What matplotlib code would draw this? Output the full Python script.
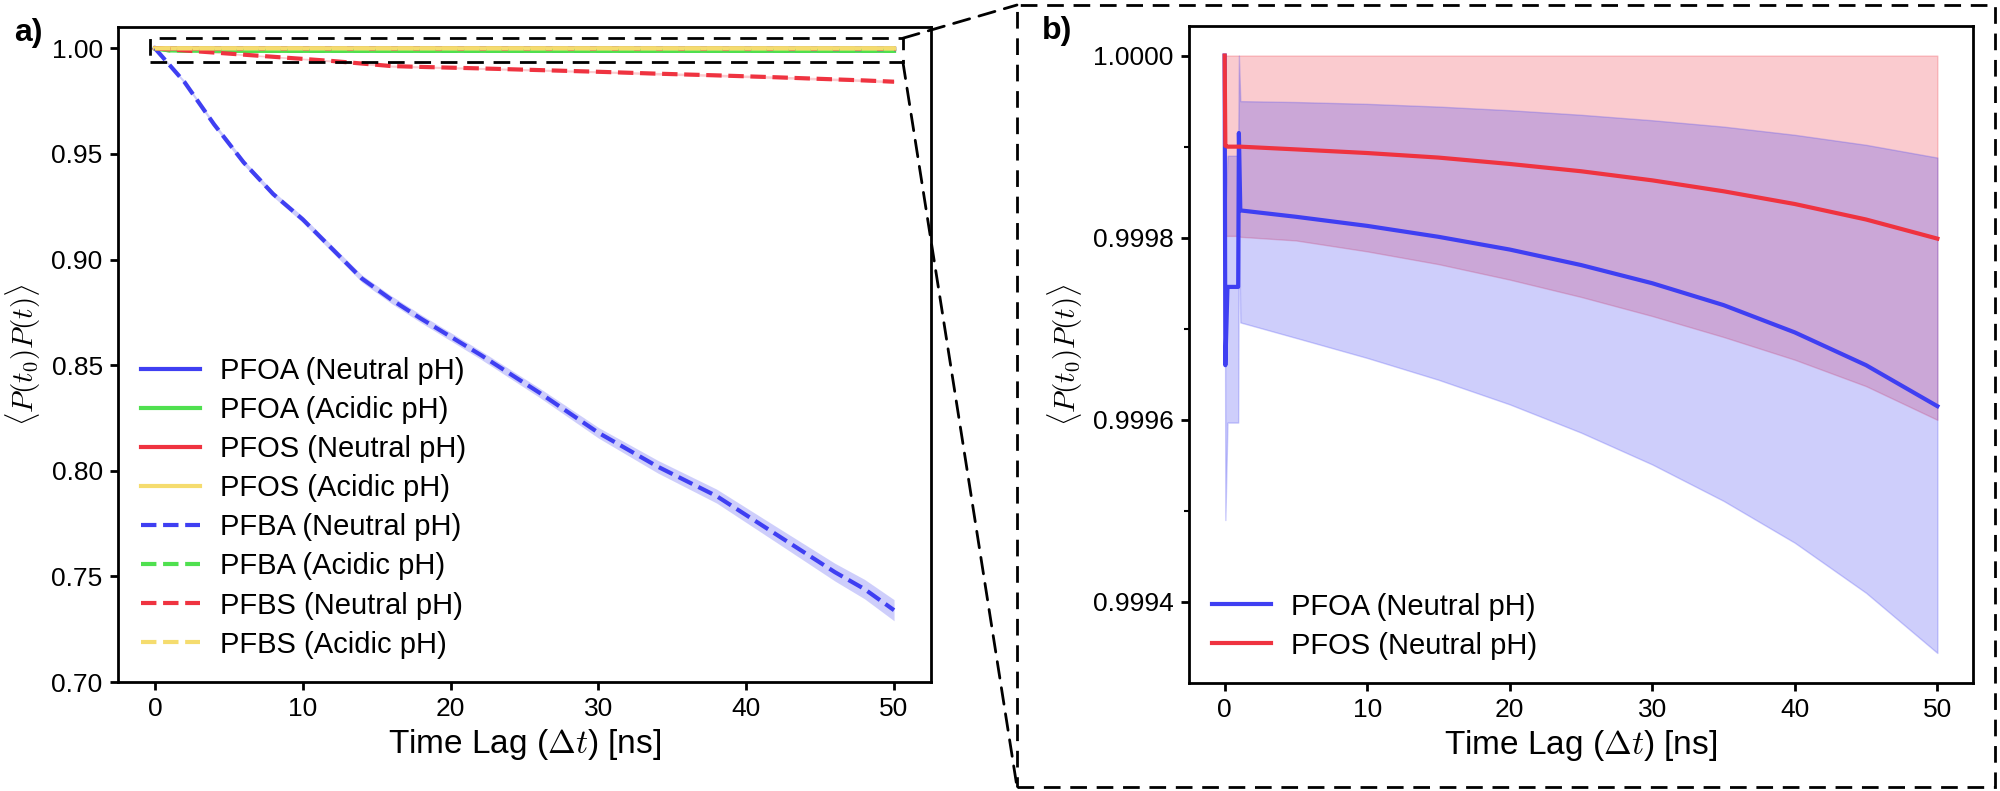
import numpy as np
import matplotlib
matplotlib.use("Agg")
import matplotlib.pyplot as plt
from matplotlib.patches import Rectangle, ConnectionPatch
from matplotlib.ticker import MultipleLocator, FormatStrFormatter

plt.rcParams['font.family'] = ['Liberation Sans', 'DejaVu Sans']
plt.rcParams['mathtext.fontset'] = 'cm'

BLUE = '#3f3ff2'
GREEN = '#4fe04f'
RED = '#ef3340'
GOLD = '#f5dc6e'

# ---- panel a data (time lag in ns) ----
t_a = [0, 1, 2, 4, 6, 8, 10, 12, 14, 16, 18, 22, 26, 30, 34, 38, 42, 46, 48, 50]
pfba_neu = [1.000, 0.992, 0.984, 0.964, 0.946, 0.931, 0.919, 0.905, 0.891, 0.881,
            0.872, 0.855, 0.837, 0.818, 0.802, 0.788, 0.770, 0.752, 0.744, 0.734]
pfba_neu_err = [0.0, 0.0006, 0.0008, 0.0010, 0.0012, 0.0013, 0.0015, 0.0016, 0.0017, 0.0018,
                0.0019, 0.0020, 0.0022, 0.0025, 0.0030, 0.0033, 0.0037, 0.0042, 0.0046, 0.0050]
pfbs_neu = [1.000, 0.9995, 0.9990, 0.9980, 0.9970, 0.9960, 0.9950, 0.9940, 0.9928, 0.9916,
            0.9912, 0.9905, 0.9897, 0.9889, 0.9880, 0.9872, 0.9863, 0.9853, 0.9848, 0.9842]
pfbs_neu_err = [0.0, 0.0002, 0.0003, 0.0003, 0.0004, 0.0004, 0.0004, 0.0005, 0.0005, 0.0005,
                0.0005, 0.0005, 0.0005, 0.0005, 0.0006, 0.0006, 0.0006, 0.0006, 0.0006, 0.0006]
pfoa_acid = [1.0, 0.99990, 0.99990, 0.99990, 0.99989, 0.99989, 0.99989, 0.99988, 0.99988, 0.99988,
             0.99987, 0.99987, 0.99986, 0.99986, 0.99985, 0.99985, 0.99984, 0.99984, 0.99983, 0.99983]
pfos_acid = [1.0, 0.99998, 0.99998, 0.99998, 0.99998, 0.99997, 0.99997, 0.99997, 0.99997, 0.99997,
             0.99996, 0.99996, 0.99996, 0.99996, 0.99995, 0.99995, 0.99995, 0.99994, 0.99994, 0.99994]
pfba_acid = [1.0, 0.9990, 0.9989, 0.9988, 0.9988, 0.9988, 0.9988, 0.9988, 0.9988, 0.9988,
             0.9988, 0.9988, 0.9988, 0.9988, 0.9988, 0.9988, 0.9988, 0.9988, 0.9988, 0.9988]
pfbs_acid = [1.0, 0.99996, 0.99995, 0.99995, 0.99995, 0.99994, 0.99994, 0.99994, 0.99993, 0.99993,
             0.99993, 0.99992, 0.99992, 0.99991, 0.99991, 0.99990, 0.99990, 0.99989, 0.99989, 0.99988]

# ---- panel b data (zoom on PFOA / PFOS neutral) ----
t_b = [0, 0.05, 0.2, 0.95, 1.0, 1.1, 5, 10, 15, 20, 25, 30, 35, 40, 45, 50]
pfoa_neu = [1.0, 0.99966, 0.999746, 0.999746, 0.999915, 0.99983, 0.999823, 0.999813,
            0.999801, 0.999787, 0.999770, 0.999750, 0.999726, 0.999696, 0.999660, 0.999615]
pfoa_lo = [1.0, 0.99949, 0.999597, 0.999597, 0.99983, 0.999707, 0.999690, 0.999668,
           0.999644, 0.999617, 0.999586, 0.999551, 0.999511, 0.999465, 0.999410, 0.999344]
pfoa_hi = [1.0, 0.99983, 0.99989, 0.99989, 1.0, 0.99995, 0.999949, 0.999947,
           0.999944, 0.999940, 0.999935, 0.999929, 0.999922, 0.999913, 0.999902, 0.999888]
pfos_neu = [1.0, 0.999901, 0.999900, 0.999900, 0.999900, 0.999900, 0.999897, 0.999893,
            0.999888, 0.999881, 0.999873, 0.999863, 0.999851, 0.999837, 0.999820, 0.999799]
pfos_lo = [1.0, 0.999802, 0.999802, 0.999802, 0.999802, 0.999801, 0.999797, 0.999785,
           0.999771, 0.999754, 0.999735, 0.999714, 0.999691, 0.999666, 0.999637, 0.999600]
pfos_hi = [1.0] * len(t_b)

W, H = 2000, 791
fig = plt.figure(figsize=(W / 100, H / 100), dpi=100)

ax_a = fig.add_axes([118 / W, 1 - 682 / H, 813 / W, 655 / H])
ax_b = fig.add_axes([1189 / W, 1 - 683 / H, 784 / W, 657 / H])

LW = 3

### panel a
pfba_neu_a = np.array(pfba_neu)
pfbs_neu_a = np.array(pfbs_neu)
ax_a.plot(t_b, pfoa_neu, color=BLUE, lw=LW, label='PFOA (Neutral pH)')
ax_a.fill_between(t_b, pfoa_lo, pfoa_hi, color=BLUE, alpha=0.25, lw=0)
ax_a.plot(t_a, pfba_acid, color=GREEN, lw=LW, label='PFOA (Acidic pH)', zorder=1.9)
ax_a.plot(t_a, pfoa_acid, color=GREEN, lw=LW)
ax_a.plot(t_b, pfos_neu, color=RED, lw=LW, label='PFOS (Neutral pH)')
ax_a.fill_between(t_b, pfos_lo, pfos_hi, color=RED, alpha=0.25, lw=0)
ax_a.plot(t_a, pfos_acid, color=GOLD, lw=LW, label='PFOS (Acidic pH)')
ax_a.plot(t_a, pfba_neu, color=BLUE, lw=LW, ls='--', label='PFBA (Neutral pH)')
ax_a.fill_between(t_a, pfba_neu_a - pfba_neu_err, pfba_neu_a + pfba_neu_err,
                  color=BLUE, alpha=0.25, lw=0)
ax_a.plot(t_a, pfba_acid, color=GREEN, lw=LW, ls='--', label='PFBA (Acidic pH)')
ax_a.plot(t_a, pfbs_neu, color=RED, lw=LW, ls='--', label='PFBS (Neutral pH)')
ax_a.fill_between(t_a, pfbs_neu_a - pfbs_neu_err, pfbs_neu_a + pfbs_neu_err,
                  color=RED, alpha=0.25, lw=0)
ax_a.plot(t_a, pfbs_acid, color=GOLD, lw=LW, ls='--', label='PFBS (Acidic pH)')

ax_a.set_xlim(-2.5, 52.5)
ax_a.set_ylim(0.70, 1.0101)
ax_a.yaxis.set_major_locator(MultipleLocator(0.05))
ax_a.yaxis.set_major_formatter(FormatStrFormatter('%.2f'))
ax_a.xaxis.set_major_locator(MultipleLocator(10))
ax_a.legend(loc='lower left', frameon=False, fontsize=21, handlelength=2.0,
            labelspacing=0.38, handletextpad=0.7, borderaxespad=0.4)

zoom_box = Rectangle((-0.35, 0.9935), 50.95, 0.0113, fill=False, lw=2,
                     ls=(0, (6, 3.5)), ec='black', zorder=5)
ax_a.add_patch(zoom_box)

### panel b
ax_b.fill_between(t_b, pfos_lo, pfos_hi, color=RED, alpha=0.25, lw=1)
ax_b.fill_between(t_b, pfoa_lo, pfoa_hi, color=BLUE, alpha=0.25, lw=1)
ax_b.plot(t_b, pfoa_neu, color=BLUE, lw=LW, label='PFOA (Neutral pH)')
ax_b.plot(t_b, pfos_neu, color=RED, lw=LW, label='PFOS (Neutral pH)')
ax_b.set_xlim(-2.5, 52.5)
ax_b.set_ylim(0.999311, 1.0000325)
ax_b.yaxis.set_major_locator(MultipleLocator(0.0002))
ax_b.yaxis.set_minor_locator(MultipleLocator(0.0001))
ax_b.yaxis.set_major_formatter(FormatStrFormatter('%.4f'))
ax_b.xaxis.set_major_locator(MultipleLocator(10))
ax_b.legend(loc='lower left', frameon=False, fontsize=21, handlelength=2.0,
            labelspacing=0.38, handletextpad=0.7, borderaxespad=0.4)

for ax in (ax_a, ax_b):
    for s in ax.spines.values():
        s.set_linewidth(2)
    ax.tick_params(which='major', labelsize=19, length=6, width=2, pad=5)
    ax.tick_params(which='minor', length=3.5, width=1.5)
    ax.set_xlabel(r'Time Lag ($\Delta t$) [ns]', fontsize=24, labelpad=4)
    ax.set_ylabel(r'$\langle P(t_0)P(t) \rangle$', fontsize=21)

ax_a.yaxis.set_label_coords(-0.092, 0.5)
ax_b.yaxis.set_label_coords(-0.133, 0.5)

fig.text(14 / W, 1 - 33 / H, 'a)', fontsize=23, fontweight='bold', va='center')
fig.text(1042 / W, 1 - 31 / H, 'b)', fontsize=23, fontweight='bold', va='center')

### dashed frame around panel b and connector lines
frame = Rectangle((1017 / W, 4 / H), 978 / W, 782 / H, transform=fig.transFigure,
                  fill=False, lw=2, ls=(0, (6, 3.5)), ec='black')
fig.add_artist(frame)
for yA, yB in ((1.0048, 1 - 5 / H), (0.9935, 4 / H)):
    con = ConnectionPatch(xyA=(50.6, yA), coordsA=ax_a.transData,
                          xyB=(1017 / W, yB), coordsB=fig.transFigure,
                          lw=2, ls=(0, (6, 3.5)), color='black')
    fig.add_artist(con)

fig.savefig('out.png', dpi=100)
